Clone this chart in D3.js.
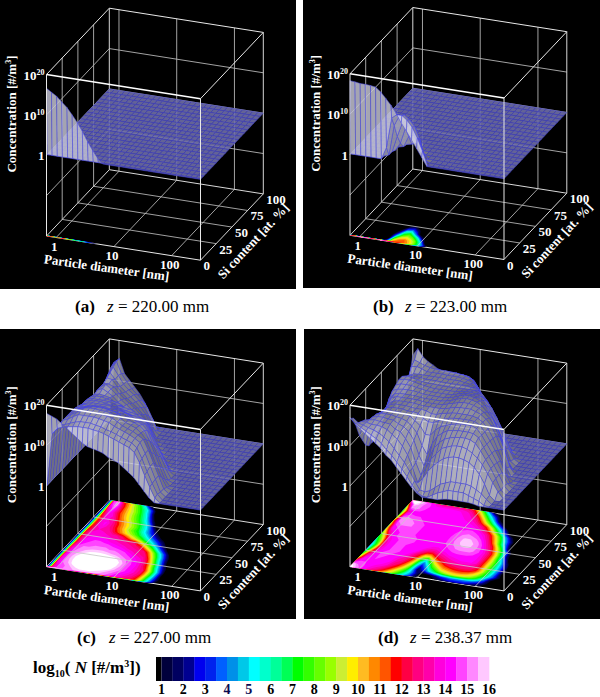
<!DOCTYPE html>
<html>
<head>
<meta charset="utf-8">
<style>
  html, body { margin: 0; padding: 0; background: #fff; }
  text { font-family: "Liberation Serif", serif; }
</style>
<script src="https://cdn.jsdelivr.net/npm/d3@7"></script>
</head>
<body>
<svg id="chart" width="600" height="697"></svg>
<script>
"use strict";

// Mesh of the surfaces: particle diameter [nm] and Si content [at.%]
var diameterGrid = [0.68, 0.83, 1.02, 1.25, 1.54, 1.89, 2.32, 2.84, 3.49, 4.28, 5.25, 6.44, 7.9, 9.7, 11.9, 14.6,
                    17.9, 22, 27, 33.1, 40.6, 49.8, 61.1, 75, 92, 113, 138, 170, 208, 256, 316];
var siGrid = [0, 1, 5, 10, 15, 20, 25, 30, 35, 40, 45, 50, 55, 60, 65, 70, 75, 80, 85, 90, 95, 100];

// log10(N), one row per siGrid entry, rows and columns left out are 0 (N = 1)
var logNa = [
    [16.6, 15.8, 15, 13.8, 12.6, 11, 9.3, 7.3, 5, 3, 1.2, 0]
];
var logNb = [
    [18.3, 18.2, 18, 18, 17.9, 17.7, 16.7, 15.3, 13.8, 12, 9.8, 8, 6, 4, 2, 0],
    [0, 0, 0, 0, 0, 0, 0, 3, 10.5, 11.5, 11.5, 10.5, 9, 6.5, 3.5, 0],
    [0, 0, 0, 0, 0, 0, 0, 0.5, 8, 10.5, 11, 10, 8.5, 5.5, 0.5, 0],
    [0, 0, 0, 0, 0, 0, 0, 0.5, 4.5, 8, 9, 8, 5.5, 1.5, 0],
    [0, 0, 0, 0, 0, 0, 0, 0, 2, 6, 7, 4, 0.5, 0],
    [0, 0, 0, 0, 0, 0, 0, 0, 0.3, 3, 3.5, 1.5, 0],
    [0, 0, 0, 0, 0, 0, 0, 0, 0, 0.3, 1, 0]
];
var logNc = [
    [18, 17.5, 17, 16, 15, 14, 13, 12, 11.3, 11, 10.7, 10.3, 9.5, 9, 8.5, 7.5, 6.5, 5.5, 4, 2.5, 1, 0],
    [0, 13, 14.5, 15, 15.3, 15.5, 15.7, 15.7, 15.7, 15.5, 15.3, 15, 14.5, 14, 13.5, 13, 12.5, 11.5, 9.2, 6.2, 3.5, 1, 0],
    [0, 13, 14.5, 15, 15.5, 16, 16.3, 16.3, 16.3, 16, 15.8, 15.3, 15, 14.5, 14, 13.5, 13, 12, 9.5, 6.5, 3.8, 1.3, 0],
    [0, 13.5, 15, 15.5, 16.3, 17, 17, 17, 17, 16.8, 16.5, 16.2, 15.5, 15, 14.5, 14, 13.3, 12.5, 10, 7, 4, 1, 0],
    [0, 13.5, 15, 15.8, 16.5, 17.2, 17.2, 17.2, 17, 17, 16.8, 16.5, 15.8, 15, 14.5, 14, 13.3, 12.5, 10, 7, 4, 1, 0],
    [0, 13.5, 15, 15.8, 16.5, 17, 17.2, 17.2, 17, 17, 16.8, 16.5, 15.8, 15, 14.5, 14, 13, 11.5, 8.5, 5.5, 2.8, 0.5, 0],
    [0, 13, 15, 15.5, 16, 16.5, 16.8, 16.8, 16.8, 16.5, 16.3, 15.8, 15.2, 14.8, 14.3, 13.8, 12.8, 10.5, 7.5, 4.5, 1.5, 0],
    [0, 13, 14.8, 15.2, 15.5, 15.7, 15.8, 15.8, 15.7, 15.5, 15.3, 15, 14.7, 14.3, 13.8, 13.3, 12, 9, 6, 3.2, 0.5, 0],
    [0, 12.5, 14.5, 15, 15, 15.2, 15.2, 15.2, 15, 15, 14.8, 14.5, 14, 13.5, 13, 12.6, 10.3, 7.6, 5, 2.2, 0],
    [0, 12, 14, 14.5, 14.8, 14.8, 14.8, 14.8, 14.5, 14.3, 14, 13.5, 13.2, 13, 12.8, 11, 8.5, 6, 3.5, 1, 0],
    [0, 12, 14, 14.3, 14.5, 14.5, 14.3, 14, 13.8, 13.5, 13.2, 13, 12.7, 12, 10, 8, 5.5, 3.2, 1, 0],
    [0, 12, 13.8, 14, 14, 14, 13.8, 13.5, 13.2, 13, 12.8, 12.5, 11, 9, 7, 5, 3, 1.2, 0],
    [0, 12, 13.5, 13.8, 13.8, 13.5, 13.2, 13, 12.5, 11.3, 10, 8.8, 7.5, 6, 4.5, 3, 1.5, 0],
    [0, 11.5, 13.2, 13.5, 13.3, 13, 12, 11, 10, 9, 8, 6.8, 5.5, 4, 2.5, 1, 0],
    [0, 11, 13.5, 14, 13.3, 12.5, 11.3, 10.3, 9, 8, 7, 5.5, 4, 2.5, 0.8, 0],
    [0, 11, 13.5, 14.2, 13.3, 12.2, 11, 10, 9, 8, 6.5, 5, 3, 0.8, 0],
    [0, 11, 13.5, 13.5, 13, 11.5, 10.5, 9.5, 8.5, 7.3, 6, 4, 1, 0],
    [0, 11.5, 14, 13.8, 12.2, 10.8, 9.7, 8.7, 7.7, 6.3, 4.5, 1.8, 0],
    [0, 12, 14.5, 13, 11.5, 10.3, 9.3, 8.2, 7, 5.5, 2.8, 0],
    [0, 13, 15, 13.2, 11.2, 10, 9, 7.8, 6.3, 4.2, 1, 0],
    [0, 14, 15.6, 12.8, 11, 9.5, 8.3, 7, 5.5, 3, 0],
    [0, 14.5, 15.5, 12, 10.5, 9, 7.5, 5.5, 2.2, 0]
];
var logNd = [
    [17, 15.5, 14.5, 13.5, 12.5, 11.5, 10.5, 9, 8, 6.5, 5, 3.5, 2, 0.8, 0, 0, 0, 0, 0.3, 0.5, 0.5, 0.5, 0.5, 0.5, 0.3, 0],
    [16.5, 15.5, 14.7, 14, 13.2, 12.5, 11.5, 10.2, 9, 7.5, 6, 4.3, 2.4, 0.8, 0, 0, 0.8, 1.5, 2, 2.5, 2.5, 2.5, 2.5, 2, 1.5, 1, 0.2, 0],
    [16, 15, 14.6, 14.2, 13.8, 13.3, 12.5, 11.5, 10, 8.5, 7, 5, 2.8, 0.8, 0.5, 1, 2, 3, 3.5, 4, 4, 4, 4, 3.7, 3, 2.2, 1, 0],
    [13, 14.5, 14.5, 14.2, 14.2, 14, 13.5, 12.5, 11.5, 10, 8, 5, 1.5, 2.8, 4.8, 6.3, 7.5, 8.5, 9, 9.3, 9.3, 9, 8.5, 7.5, 6, 3.8, 1.2, 0],
    [10, 14, 14.3, 14.5, 14.3, 14.2, 14, 13, 12.5, 11, 9, 5.5, 2.5, 4.5, 7, 8.5, 10, 10.5, 11, 11.2, 11.2, 10.8, 10, 9, 7.5, 5.5, 3.5, 1.5, 0],
    [8, 13, 14.2, 14.5, 14.5, 14.3, 14.2, 13.5, 13, 12, 10, 6.5, 4, 6.5, 9, 10.5, 11.5, 12, 12.3, 12.5, 12.5, 12.3, 11.6, 10, 8, 6, 3.7, 1, 0],
    [6, 11, 14, 14.5, 14.5, 14.5, 14.2, 14, 13.5, 12.5, 11, 8, 6, 9, 11, 12, 12.8, 13, 13.2, 13.2, 13.2, 13, 12.2, 10, 8, 6, 3.8, 1.3, 0],
    [5, 9, 13.5, 14.2, 14.5, 14.5, 14.5, 14.2, 14, 13, 12, 10, 10, 11.5, 12.5, 13, 13.5, 13.8, 14, 14, 14, 13.5, 12, 10, 8, 5.8, 3.5, 1, 0],
    [5, 8, 13, 14.2, 14.5, 14.5, 14.5, 14.2, 14.2, 14, 13, 12.3, 12.3, 13, 13.5, 14, 14.2, 14.3, 14.3, 14.3, 14.2, 13.5, 12, 10, 7.8, 5.5, 2.5, 0.2, 0],
    [6, 8.5, 13, 14.2, 14.5, 14.5, 14.5, 14.3, 14.2, 14.2, 14, 13.5, 13.5, 14, 14.2, 14.5, 14.6, 14.6, 14.6, 14.5, 14.2, 13.4, 12, 9.8, 7, 4, 0.8, 0],
    [7, 9.5, 13.5, 14.2, 14.5, 14.5, 14.5, 14.5, 14.3, 14.2, 14.2, 14.2, 14.2, 14.3, 14.7, 15, 15.2, 15.2, 15.2, 14.8, 14.3, 13.3, 11.9, 9.5, 6.5, 2, 0],
    [8, 11, 14, 14.5, 14.5, 14.5, 14.5, 14.5, 14.3, 14.2, 14.2, 14.2, 14.3, 14.7, 15, 15.4, 15.6, 15.6, 15.3, 14.8, 14, 12.8, 11, 8.5, 5.5, 1.5, 0],
    [9, 13, 14.2, 14.5, 14.5, 14.5, 14.5, 14.3, 14.2, 14.2, 14.2, 14.2, 14.4, 14.7, 15.2, 15.6, 15.8, 15.6, 15.3, 14.5, 13.3, 12, 9.5, 6.5, 2, 0],
    [10, 14, 14.5, 14.7, 14.7, 14.7, 14.5, 14.3, 14.2, 14.2, 14.2, 14.2, 14.4, 14.7, 15.2, 15.6, 15.6, 15.3, 14.8, 13.8, 12.3, 10, 7, 4, 1, 0],
    [10, 14.5, 15, 15, 15, 14.7, 14.5, 14.3, 14.2, 14.2, 14.2, 14.2, 14.3, 14.7, 15, 15.2, 15, 14.7, 14, 12.8, 11, 8.5, 5.8, 3, 0.8, 0],
    [11, 15, 15.3, 15.3, 15, 14.7, 14.5, 14.3, 14.2, 14.2, 14.2, 14.2, 14.3, 14.5, 14.7, 14.7, 14.5, 14, 13.2, 11.7, 9.5, 7, 4, 1.3, 0],
    [9, 15, 15.3, 15, 14.7, 14.5, 14.3, 14.3, 14.2, 14.2, 14.2, 14.2, 14.2, 14.3, 14.3, 14.3, 13.8, 12.8, 11.3, 9, 6.5, 3.5, 0.8, 0],
    [8, 14, 14.7, 14.5, 14.5, 14.3, 14.3, 14.3, 14.2, 14.2, 14.2, 14.2, 14.2, 14.2, 14, 13.5, 12.8, 11.3, 9, 6.3, 3.7, 1, 0],
    [8, 13, 14.2, 14.3, 14.3, 14.3, 14.3, 14.3, 14.2, 14.2, 14.2, 14.2, 14, 13.8, 13.3, 12, 10, 7.8, 5.3, 2.6, 0],
    [9, 15, 15.2, 14.8, 14.3, 14.3, 14.3, 14.3, 14.2, 14.2, 14.2, 14, 13.8, 13.3, 12.2, 10, 7.5, 5, 1.8, 0],
    [12, 15.8, 15.3, 14.8, 14.5, 14.3, 14.3, 14.3, 14.2, 14.2, 14, 13.8, 13.3, 12, 10, 7.5, 5, 2.5, 0],
    [16, 17.8, 16, 15, 14.3, 13.5, 13, 13, 13, 13, 13, 12.8, 12, 10, 7.5, 4.5, 1.5, 0]
];

// Tick labels
var diameterTicks = [1, 10, 100];
var siTicks = [0, 25, 50, 75, 100];
var logNTicks = [-10, 0, 10, 20];
var logNLabels = [[0, "1"], [10, "10", "10"], [20, "10", "20"]];

// Colour scale of the floor map: lower edge of each band, the last one is open
var bandLevels = [1, 1.5, 2, 2.5, 3, 3.5, 4, 4.5, 5, 5.5, 6, 6.5, 7, 7.5, 8, 8.5, 9, 9.5, 10, 10.5,
                  11, 11.5, 12, 12.5, 13, 13.5, 14, 14.5, 15, 15.5, 16];
var bandColors = ["#00003c", "#000060", "#000090", "#0000ee", "#0022ee", "#0060ff", "#0090e8", "#00c8e8",
                  "#00ffff", "#00ffcc", "#00ff99", "#00ff55", "#00ff00", "#33ff00", "#66ff00", "#99ff00",
                  "#ccee33", "#ffee00", "#ffbb22", "#ff8800", "#ff5500", "#ff0000", "#ff0044", "#ff0080",
                  "#ff00aa", "#ff00dd", "#ff00ff", "#ff44ff", "#ff88ff", "#ffc8ff", "#ffffff"];
var barTicks = d3.range(1, 17);

var panels = [
    {letter: "(a)", z: "220.00", logN: logNa, box: [0, 0, 296, 289], ox: 46.5, oy: 236, capY: 312, capX: 75},
    {letter: "(b)", z: "223.00", logN: logNb, box: [303, 0, 297, 288], ox: 350, oy: 235.3, capY: 312, capX: 373},
    {letter: "(c)", z: "227.00", logN: logNc, box: [0, 329, 296, 290], ox: 46.5, oy: 566.7, capY: 643, capX: 77},
    {letter: "(d)", z: "238.37", logN: logNd, box: [304, 329, 296, 290], ox: 350, oy: 566.7, capY: 643, capX: 378}
];

var U_VEC = [154, 24.2], V_VEC = [62.8, -66.3], W_VEC = [0, -161.5];
var VIEW = [0.347, -0.849, 0.398];

var uScale = d3.scaleLog().domain([0.68, 316]).range([0, 1]);
var vScale = d3.scaleLinear().domain([0, 100]).range([0, 1]);
var wScale = d3.scaleLinear().domain([-20, 20]).range([0, 1]);
// d3.contours works in grid index space, these go back to data space
var colToD = d3.scaleLog().domain(diameterGrid).range(d3.range(diameterGrid.length));
var rowToSi = d3.scaleLinear().domain(d3.range(siGrid.length)).range(siGrid).clamp(true);

var svg = d3.select("#chart");
svg.append("rect").attr("width", 600).attr("height", 697).attr("fill", "#fff");

function project(p, d, si, logN) {
    var u = uScale(d), v = vScale(si), w = wScale(logN);
    return [p.ox + u * U_VEC[0] + v * V_VEC[0] + w * W_VEC[0],
            p.oy + u * U_VEC[1] + v * V_VEC[1] + w * W_VEC[1]];
}

function segment(g, a, b, color, width) {
    g.append("line")
        .attr("x1", a[0]).attr("y1", a[1])
        .attr("x2", b[0]).attr("y2", b[1])
        .attr("stroke", color).attr("stroke-width", width);
}

// Fill the sparse rows out to a full table
function fullTable(rows) {
    return siGrid.map(function (s, r) {
        var row = rows[r] || [];
        return diameterGrid.map(function (d, c) {
            return row[c] === undefined ? 0 : row[c];
        });
    });
}

function drawFloor(g, p, table) {
    var nx = diameterGrid.length, ny = siGrid.length;
    var contours = d3.contours().size([nx, ny]).thresholds(bandLevels)(d3.merge(table));
    var path = d3.geoPath(d3.geoTransform({
        point: function (x, y) {
            var col = Math.max(0, Math.min(nx - 1, x - 0.5));
            var q = project(p, colToD.invert(col), rowToSi(y - 0.5), -20);
            this.stream.point(q[0], q[1]);
        }
    }));
    g.selectAll("path.band")
        .data(contours)
        .enter().append("path")
        .attr("class", "band")
        .attr("d", path)
        .attr("fill", function (c, i) { return bandColors[i]; });
}

function drawWalls(g, p) {
    var dMin = uScale.domain()[0], dMax = uScale.domain()[1], col = "#b4b4b4", wid = 0.9;
    // back wall and left wall, verticals
    diameterTicks.forEach(function (d) {
        segment(g, project(p, d, 100, -20), project(p, d, 100, 20), col, wid);
    });
    siTicks.slice(1, 4).forEach(function (s) {
        segment(g, project(p, dMin, s, -20), project(p, dMin, s, 20), col, wid);
    });
    logNTicks.slice(0, 3).forEach(function (n) {
        segment(g, project(p, dMin, 100, n), project(p, dMax, 100, n), col, wid);
        segment(g, project(p, dMin, 0, n), project(p, dMin, 100, n), col, wid);
    });
    // box edges behind the surface
    segment(g, project(p, dMin, 100, -20), project(p, dMin, 100, 20), "#d8d8d8", 1);
    segment(g, project(p, dMax, 100, -20), project(p, dMax, 100, 20), "#d8d8d8", 1);
    segment(g, project(p, dMin, 100, 20), project(p, dMax, 100, 20), "#e8e8e8", 1);
    segment(g, project(p, dMin, 0, 20), project(p, dMin, 100, 20), "#e8e8e8", 1);
    segment(g, project(p, dMax, 0, 20), project(p, dMax, 100, 20), "#e8e8e8", 1);
    segment(g, project(p, dMin, 100, -20), project(p, dMax, 100, -20), "#d8d8d8", 1);
    segment(g, project(p, dMin, 0, -20), project(p, dMin, 100, -20), "#d8d8d8", 1);
    segment(g, project(p, dMax, 0, -20), project(p, dMax, 100, -20), "#d8d8d8", 1);
    segment(g, project(p, dMin, 0, -20), project(p, dMax, 0, -20), "#e8e8e8", 1);
}

function drawFloorGrid(g, p) {
    var dMin = uScale.domain()[0], dMax = uScale.domain()[1];
    diameterTicks.forEach(function (d) {
        segment(g, project(p, d, 0, -20), project(p, d, 100, -20), "#c8c8c8", 0.8);
    });
    siTicks.slice(1, 4).forEach(function (s) {
        segment(g, project(p, dMin, s, -20), project(p, dMax, s, -20), "#c8c8c8", 0.8);
    });
}

// Painter's order: far rows first, small diameters first
function drawSurface(g, p, table) {
    var r, c, quads = [];
    for (r = siGrid.length - 2; r >= 0; r -= 1) {
        for (c = 0; c < diameterGrid.length - 1; c += 1) {
            quads.push([r, c]);
        }
    }
    function world(r, c) {
        return [uScale(diameterGrid[c]), vScale(siGrid[r]), wScale(table[r][c])];
    }
    g.selectAll("path.quad")
        .data(quads)
        .enter().append("path")
        .attr("class", "quad")
        .each(function (q) {
            var r = q[0], c = q[1],
                a = world(r, c), b = world(r, c + 1), e = world(r + 1, c + 1), f = world(r + 1, c),
                d1 = [e[0] - a[0], e[1] - a[1], e[2] - a[2]],
                d2 = [f[0] - b[0], f[1] - b[1], f[2] - b[2]],
                n = [d1[1] * d2[2] - d1[2] * d2[1], d1[2] * d2[0] - d1[0] * d2[2], d1[0] * d2[1] - d1[1] * d2[0]],
                len = Math.sqrt(n[0] * n[0] + n[1] * n[1] + n[2] * n[2]) || 1,
                facing = Math.abs(n[0] * VIEW[0] + n[1] * VIEW[1] + n[2] * VIEW[2]) / len,
                top = Math.max(table[r][c], table[r][c + 1], table[r + 1][c + 1], table[r + 1][c]),
                gray = Math.round(100 + 115 * facing),
                flat = top < 0.2;
            d3.select(this)
                .attr("d", d3.line()([
                    project(p, diameterGrid[c], siGrid[r], table[r][c]),
                    project(p, diameterGrid[c + 1], siGrid[r], table[r][c + 1]),
                    project(p, diameterGrid[c + 1], siGrid[r + 1], table[r + 1][c + 1]),
                    project(p, diameterGrid[c], siGrid[r + 1], table[r + 1][c])
                ]) + "Z")
                .attr("fill", flat ? "#6e6ea6" : "rgb(" + gray + "," + gray + "," + (gray + 15) + ")")
                .attr("fill-opacity", flat ? 0.9 : 0.84)
                .attr("stroke", flat ? "#3c3cc8" : "#4646e0")
                .attr("stroke-width", facing < 0.12 ? 1 : 0.5);
        });
}

function drawFront(g, p) {
    var dMin = uScale.domain()[0], dMax = uScale.domain()[1];
    segment(g, project(p, dMin, 0, 20), project(p, dMax, 0, 20), "#fff", 1.5);
    segment(g, project(p, dMin, 0, -20), project(p, dMin, 0, 20), "#e8e8e8", 1);
    segment(g, project(p, dMax, 0, -20), project(p, dMax, 0, 20), "#e8e8e8", 1);
}

function tickText(g, x, y, anchor) {
    return g.append("text")
        .attr("x", x).attr("y", y)
        .attr("text-anchor", anchor)
        .attr("fill", "#fff")
        .attr("font-weight", "bold")
        .attr("font-size", 13);
}

function drawLabels(g, p) {
    var dMin = uScale.domain()[0], dMax = uScale.domain()[1];
    logNLabels.forEach(function (l) {
        var q = project(p, dMin, 0, l[0]);
        var t = tickText(g, q[0] - 2, q[1] + 5, "end");
        t.append("tspan").text(l[1]);
        if (l[2]) {
            t.append("tspan").attr("font-size", 8).attr("dy", -5).text(l[2]);
        }
    });
    diameterTicks.forEach(function (d) {
        var q = project(p, d, 0, -20);
        tickText(g, q[0] - 2, q[1] + 13, "middle").text(d);
    });
    siTicks.forEach(function (s) {
        var q = project(p, dMax, s, -20);
        tickText(g, q[0] + 3, q[1] + 10, "start").text(s);
    });

    var t = tickText(g, 0, 0, "middle")
        .attr("transform", "translate(" + (p.ox - 30.5) + "," + (p.oy - 122) + ") rotate(-90)");
    t.append("tspan").text("Concentration [#/m");
    t.append("tspan").attr("font-size", 8).attr("dy", -5).text("3");
    t.append("tspan").attr("dy", 5).text("]");

    tickText(g, 0, 0, "middle")
        .attr("transform", "translate(" + (p.ox + 59.5) + "," + (p.oy + 36) + ") rotate(8)")
        .text("Particle diameter [nm]");
    tickText(g, 0, 0, "middle")
        .attr("transform", "translate(" + (p.ox + 210) + "," + (p.oy + 8) + ") rotate(-47)")
        .text("Si content [at. %]");
}

function drawCaption(p) {
    var t = svg.append("text").attr("x", p.capX).attr("y", p.capY)
        .attr("fill", "#000").attr("font-size", 17);
    t.append("tspan").attr("font-weight", "bold").text(p.letter);
    t.append("tspan").attr("x", p.capX + 32).attr("font-style", "italic").text("z");
    t.append("tspan").text(" = " + p.z + " mm");
}

panels.forEach(function (p) {
    var g = svg.append("g"), table = fullTable(p.logN);
    g.append("rect")
        .attr("x", p.box[0]).attr("y", p.box[1])
        .attr("width", p.box[2]).attr("height", p.box[3])
        .attr("fill", "#000");
    drawWalls(g, p);
    drawFloor(g.append("g"), p, table);
    drawFloorGrid(g, p);
    drawSurface(g.append("g"), p, table);
    drawFront(g, p);
    drawLabels(g, p);
    drawCaption(p);
});

// Colour bar
var barX = d3.scaleLinear().domain([1, 16]).range([161.5, 489]);
var bar = svg.append("g");
bar.append("rect")
    .attr("x", 156).attr("y", 657)
    .attr("width", barX(1) - 156).attr("height", 24)
    .attr("fill", "#000");
bar.selectAll("rect.band")
    .data(bandLevels.slice(0, -1))
    .enter().append("rect")
    .attr("class", "band")
    .attr("x", function (d) { return barX(d); })
    .attr("y", 657)
    .attr("width", function (d) { return barX(d + 0.5) - barX(d) + 0.3; })
    .attr("height", 24)
    .attr("fill", function (d, i) { return bandColors[i]; });
bar.selectAll("text.tick")
    .data(barTicks)
    .enter().append("text")
    .attr("class", "tick")
    .attr("x", function (d) { return barX(d); })
    .attr("y", 693.5)
    .attr("text-anchor", "middle")
    .attr("font-weight", "bold")
    .attr("font-size", 14)
    .attr("fill", function (d) { return d === 4 || d === 5 ? "#0a0a50" : "#000"; })
    .text(function (d) { return d; });

var barTitle = bar.append("text")
    .attr("x", 33).attr("y", 673)
    .attr("font-weight", "bold").attr("font-size", 17).attr("fill", "#000");
barTitle.append("tspan").text("log");
barTitle.append("tspan").attr("font-size", 10).attr("dy", 4).text("10");
barTitle.append("tspan").attr("dy", -4).text("( ");
barTitle.append("tspan").attr("font-style", "italic").text("N");
barTitle.append("tspan").text(" [#/m");
barTitle.append("tspan").attr("font-size", 10).attr("dy", -6).text("3");
barTitle.append("tspan").attr("dy", 6).text("])");
</script>
</body>
</html>
